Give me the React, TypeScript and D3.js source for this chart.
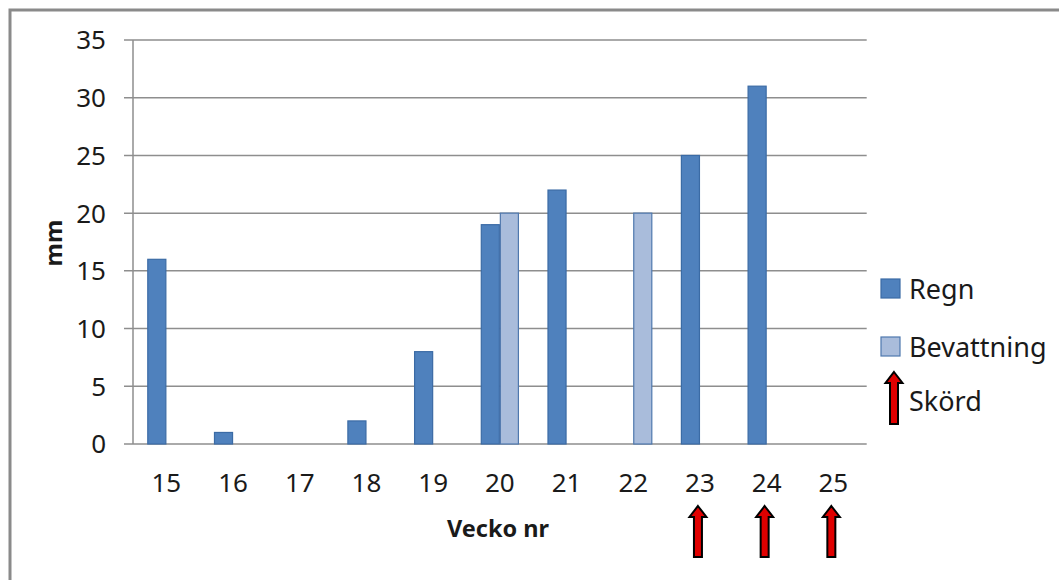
import React from "react";
import * as d3 from "d3";

const weeks = ["15", "16", "17", "18", "19", "20", "21", "22", "23", "24", "25"];
const regn = [16, 1, 0, 2, 8, 19, 22, 0, 25, 31, 0];
const bevattning = [0, 0, 0, 0, 0, 20, 0, 20, 0, 0, 0];
const harvestWeeks = ["23", "24", "25"];
const yTicks = [0, 5, 10, 15, 20, 25, 30, 35];
const seriesNames = ["Regn", "Bevattning"];
const xTitle = "Vecko nr";
const yTitle = "mm";
const harvestLabel = "Skörd";

const W = 1059;
const H = 580;
const plot = { left: 133, right: 866.7, top: 40, bottom: 444 };
const FONT = "'Noto Sans', 'Open Sans', sans-serif";
const TEXT = "#1a1a1a";
const GRID = "#8e8e8e";
const colors = {
  Regn: { fill: "#4F81BD", stroke: "#3B6BA5" },
  Bevattning: { fill: "#A9BCDB", stroke: "#4F78AE" },
};

function arrowPath(cx: number, top: number, bottom: number) {
  const shaft = 4;
  const head = 8.5;
  const headH = 11;
  return [
    [cx, top],
    [cx + head, top + headH],
    [cx + shaft, top + headH],
    [cx + shaft, bottom],
    [cx - shaft, bottom],
    [cx - shaft, top + headH],
    [cx - head, top + headH],
  ]
    .map((p, i) => (i === 0 ? "M" : "L") + p[0] + "," + p[1])
    .join("") + "Z";
}

export default function App() {
  const p = 1 - 38.1 / 66.67;
  const x = d3
    .scaleBand<string>()
    .domain(weeks)
    .range([plot.left, plot.right])
    .paddingInner(p)
    .paddingOuter(p / 2);
  const xs = d3.scaleBand<string>().domain(seriesNames).range([0, x.bandwidth()]);
  const y = d3.scaleLinear().domain([0, 35]).range([plot.bottom, plot.top]);
  const center = (w: string) => (x(w) as number) + x.bandwidth() / 2;

  const series = [
    { name: "Regn", values: regn },
    { name: "Bevattning", values: bevattning },
  ];

  return (
    <svg
      width={W}
      height={H}
      style={{ position: "absolute", left: 0, top: 0, background: "#fff" }}
      fontFamily={FONT}
    >
      <rect x={0} y={0} width={W} height={H} fill="#fff" />
      <rect x={10} y={10} width={W + 20} height={H + 20} fill="none" stroke="#8a8a8a" strokeWidth={3} />

      {/* gridlines & y ticks */}
      {yTicks.map((t) => (
        <g key={t}>
          <line x1={plot.left - 9} x2={plot.right} y1={y(t)} y2={y(t)} stroke={GRID} strokeWidth={1.5} />
          <text x={106} y={y(t)} dy="0.36em" textAnchor="end" fontSize={26} fill={TEXT}>
            {t}
          </text>
        </g>
      ))}
      <line x1={plot.left} x2={plot.left} y1={plot.top} y2={plot.bottom} stroke={GRID} strokeWidth={1.5} />

      {/* bars */}
      {series.map((s) =>
        s.values.map((v, i) =>
          v > 0 ? (
            <rect
              key={s.name + i}
              x={(x(weeks[i]) as number) + (xs(s.name) as number) + 0.5}
              y={y(v)}
              width={xs.bandwidth() - 1}
              height={y(0) - y(v)}
              fill={colors[s.name as keyof typeof colors].fill}
              stroke={colors[s.name as keyof typeof colors].stroke}
              strokeWidth={1.2}
            />
          ) : null
        )
      )}

      {/* x labels */}
      {weeks.map((w) => (
        <text key={w} x={center(w)} y={492} textAnchor="middle" fontSize={26} fill={TEXT}>
          {w}
        </text>
      ))}

      {/* axis titles */}
      <text x={498} y={537} textAnchor="middle" fontSize={23.5} fontWeight="bold" fill={TEXT}>
        {xTitle}
      </text>
      <text
        transform={`translate(53,243) rotate(-90)`}
        textAnchor="middle"
        dy="0.36em"
        fontSize={24}
        fontWeight="bold"
        fill={TEXT}
      >
        {yTitle}
      </text>

      {/* harvest arrows */}
      {harvestWeeks.map((w) => (
        <path
          key={w}
          d={arrowPath(center(w) - 2, 506, 557)}
          fill="#E00000"
          stroke="#000"
          strokeWidth={2}
          strokeLinejoin="miter"
        />
      ))}

      {/* legend */}
      {seriesNames.map((n, i) => (
        <g key={n} transform={`translate(881,${279 + i * 58})`}>
          <rect
            x={0}
            y={0}
            width={19}
            height={19}
            fill={colors[n as keyof typeof colors].fill}
            stroke={colors[n as keyof typeof colors].stroke}
            strokeWidth={1.2}
          />
          <text x={28} y={10} dy="0.36em" fontSize={27} fill={TEXT}>
            {n}
          </text>
        </g>
      ))}
      <path d={arrowPath(894, 372, 424)} fill="#E00000" stroke="#000" strokeWidth={2} />
      <text x={909} y={401} dy="0.36em" fontSize={27} fill={TEXT}>
        {harvestLabel}
      </text>
    </svg>
  );
}
